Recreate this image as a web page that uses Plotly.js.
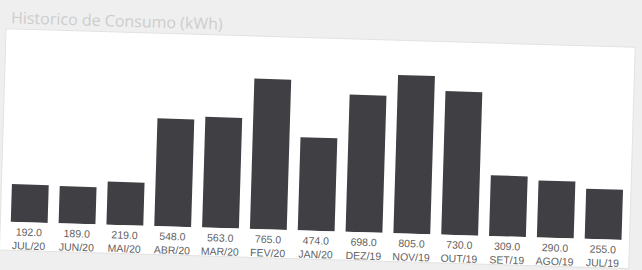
<!DOCTYPE html>
<html>
<head>
<meta charset="utf-8">
<script src="https://cdn.plot.ly/plotly-3.0.1.min.js"></script>
<style>
  html, body { margin: 0; padding: 0; background: #efefef; overflow: hidden; }
  #chart { width: 642px; height: 270px; transform: rotate(1.7deg); transform-origin: 321px 135px; }
</style>
</head>
<body>
<div id="chart"></div>
<script>
const months = ["JUL/20","JUN/20","MAI/20","ABR/20","MAR/20","FEV/20","JAN/20","DEZ/19","NOV/19","OUT/19","SET/19","AGO/19","JUL/19"];
const consumption = [192, 189, 219, 548, 563, 765, 474, 698, 805, 730, 309, 290, 255];

const tickText = months.map((m, i) => consumption[i].toFixed(1) + "<br>" + m);

const trace = {
  type: "bar",
  x: months,
  y: consumption,
  marker: { color: "#3f3f44", line: { width: 0 } },
  hoverinfo: "none"
};

const layout = {
  width: 642,
  height: 270,
  margin: { l: 8, r: 12, t: 54, b: 38.5, pad: 0 },
  paper_bgcolor: "#efefef",
  plot_bgcolor: "#ffffff",
  bargap: 0.23,
  showlegend: false,
  title: {
    text: "Historico de Consumo (kWh)",
    xref: "container", yref: "container",
    x: 0.012, xanchor: "left",
    y: 0.9, yanchor: "middle",
    font: { family: "Open Sans", size: 16, color: "#cdcdcd" }
  },
  xaxis: {
    type: "category",
    tickvals: months,
    ticktext: tickText,
    showgrid: false, zeroline: false, showline: false, ticks: "",
    ticklabelstandoff: 2,
    tickfont: { family: "Liberation Sans", size: 10.5, color: "#626262" },
    fixedrange: true
  },
  yaxis: {
    range: [0, 900],
    visible: false,
    fixedrange: true
  },
  shapes: [{
    type: "rect", xref: "paper", yref: "paper",
    x0: -0.008, x1: 1.004, y0: -0.1606, y1: 1.0901,
    fillcolor: "#ffffff", line: { width: 1, color: "#e2e2e2" }, layer: "below"
  }]
};

Plotly.newPlot("chart", [trace], layout, { displayModeBar: false, staticPlot: true });
</script>
</body>
</html>
